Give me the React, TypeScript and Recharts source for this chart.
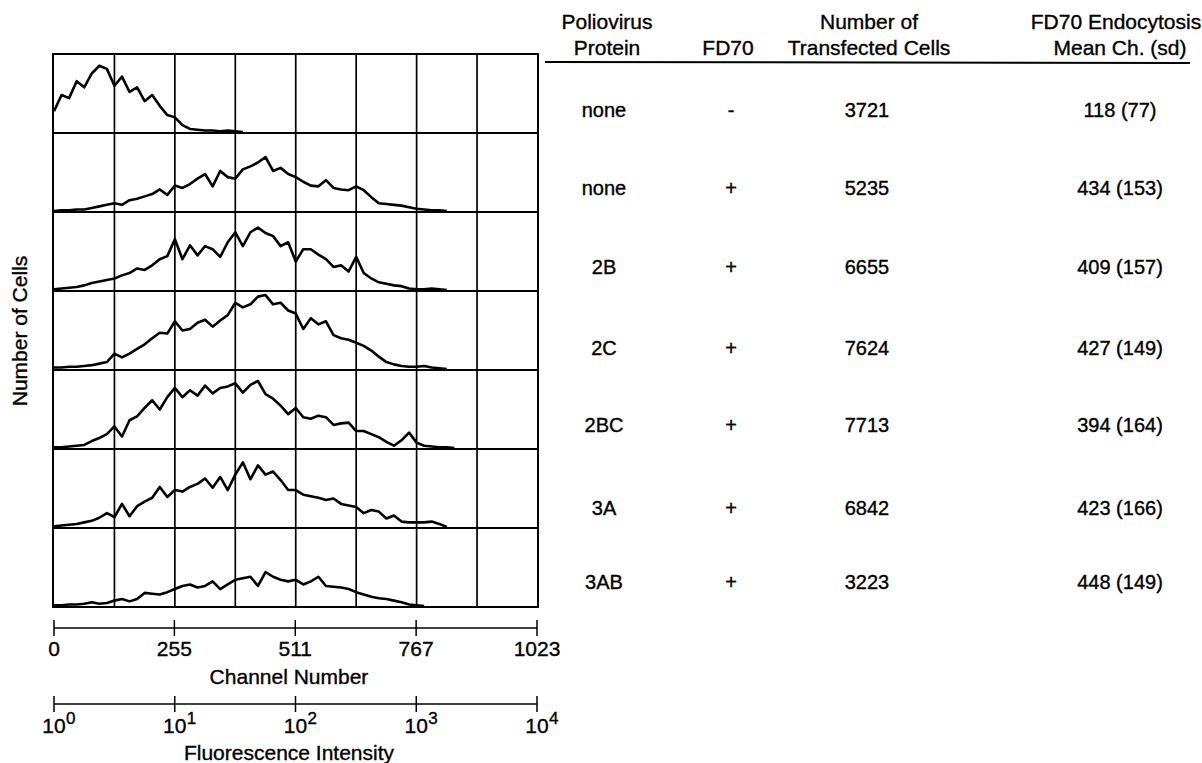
import { LineChart, Line, XAxis, YAxis, ReferenceLine } from 'recharts';

// histogram heights (% of panel height), one value every 16 channels starting at channel 0
const CHANNEL_STEP = 16;
const hist1 = [27, 48, 44, 66, 58, 76, 86, 82, 60, 72, 52, 58, 40, 48, 34, 22, 19, 9, 4, 3, 2, 2, 1, 2, 1, 0];
const hist2 = [0, 1, 1, 2, 2, 4, 6, 8, 10, 8, 14, 16, 19, 22, 28, 21, 33, 30, 35, 42, 48, 32, 52, 44, 42, 54, 58, 63, 70, 52, 56, 48, 44, 38, 33, 32, 40, 30, 28, 27, 32, 27, 18, 10, 9, 8, 7, 5, 3, 2, 1, 1, 0];
const hist3 = [1, 2, 3, 4, 6, 9, 11, 13, 15, 19, 22, 28, 26, 32, 40, 44, 66, 40, 58, 45, 57, 53, 43, 62, 75, 57, 75, 81, 74, 70, 57, 62, 37, 53, 53, 46, 40, 30, 32, 24, 43, 22, 15, 10, 8, 6, 5, 2, 1, 1, 2, 1, 0];
const hist4 = [2, 2, 3, 3, 4, 5, 7, 9, 20, 15, 20, 26, 32, 40, 47, 46, 62, 50, 52, 60, 64, 55, 63, 70, 86, 80, 84, 94, 96, 84, 86, 76, 72, 52, 66, 58, 62, 44, 40, 38, 34, 30, 24, 16, 9, 6, 4, 3, 3, 4, 2, 1, 0];
const hist5 = [1, 1, 2, 3, 4, 9, 13, 18, 28, 15, 36, 41, 52, 62, 50, 66, 78, 66, 75, 68, 81, 71, 78, 80, 84, 72, 82, 87, 70, 64, 55, 44, 52, 40, 38, 42, 40, 30, 32, 33, 22, 22, 18, 14, 8, 3, 10, 20, 7, 3, 2, 1, 1, 0];
const hist6 = [1, 2, 3, 4, 6, 8, 12, 18, 13, 30, 14, 27, 33, 38, 52, 39, 48, 46, 52, 56, 63, 51, 65, 48, 68, 84, 62, 80, 68, 72, 61, 48, 48, 42, 40, 38, 35, 37, 30, 28, 26, 18, 22, 20, 11, 15, 7, 6, 6, 6, 7, 4, 0];
const hist7 = [1, 1, 2, 2, 3, 5, 3, 4, 7, 9, 6, 9, 17, 16, 15, 18, 22, 26, 28, 24, 26, 32, 22, 28, 34, 36, 38, 26, 44, 38, 34, 32, 34, 28, 32, 38, 26, 25, 24, 22, 18, 15, 12, 10, 9, 7, 5, 2, 1, 0];
const histograms = [hist1, hist2, hist3, hist4, hist5, hist6, hist7];

const gridChannels = [128, 256, 384, 512, 640, 768, 896];
const channelTicks = [0, 255, 511, 767, 1023];
const intensityTicks = [1, 10, 100, 1000, 10000];

// table
const proteins = ['none', 'none', '2B', '2C', '2BC', '3A', '3AB'];
const fd70 = ['-', '+', '+', '+', '+', '+', '+'];
const cellCounts = [3721, 5235, 6655, 7624, 7713, 6842, 3223];
const means = [118, 434, 409, 427, 394, 423, 448];
const sds = [77, 153, 157, 149, 164, 166, 149];
const rowY = [110, 188, 267, 348, 425, 508, 582];

const FONT = '"Liberation Sans", Arial, Helvetica, sans-serif';
const PLOT_W = 483;
const PANEL_H = 77;
const INK = { stroke: '#000', strokeWidth: 0.35 };

function ChannelTick({ x, y, payload }: any) {
  return (
    <g>
      <line x1={x} x2={x} y1={y - 8} y2={y + 8} stroke="#000" strokeWidth={1.5} />
      <text x={x} y={y + 28} textAnchor="middle" fontSize={21} fontFamily={FONT} fill="#000" {...INK}>
        {payload.value}
      </text>
    </g>
  );
}

function IntensityTick({ x, y, payload }: any) {
  const exp = Math.round(Math.log10(payload.value));
  return (
    <g>
      <line x1={x} x2={x} y1={y - 8} y2={y + 8} stroke="#000" strokeWidth={1.5} />
      <text x={x} y={y + 29} textAnchor="middle" fontSize={21} fontFamily={FONT} fill="#000" {...INK}>10</text>
      <text x={x + 12} y={y + 20} textAnchor="start" fontSize={17} fontFamily={FONT} fill="#000" {...INK}>{exp}</text>
    </g>
  );
}

function Panel({ values }: { values: number[] }) {
  const data = values.map((v, i) => ({ ch: i * CHANNEL_STEP, v }));
  return (
    <LineChart width={PLOT_W} height={PANEL_H} data={data} margin={{ top: 0, right: 0, bottom: 0, left: 0 }}>
      <XAxis dataKey="ch" type="number" domain={[0, 1023]} hide />
      <YAxis type="number" domain={[0, 100]} hide />
      {gridChannels.map(c => (
        <ReferenceLine key={c} x={c} stroke="#000" strokeWidth={1.7} />
      ))}
      <Line
        type="linear"
        dataKey="v"
        stroke="#000"
        strokeWidth={2.6}
        strokeLinejoin="round"
        dot={false}
        isAnimationActive={false}
      />
    </LineChart>
  );
}

function AxisChart({ log }: { log?: boolean }) {
  const data = log ? [{ x: 1, y: 0 }, { x: 10000, y: 0 }] : [{ x: 0, y: 0 }, { x: 1023, y: 0 }];
  return (
    <LineChart width={PLOT_W + 80} height={50} data={data} margin={{ top: 0, right: 40, bottom: 0, left: 40 }}>
      <XAxis
        dataKey="x"
        type="number"
        scale={log ? 'log' : 'linear'}
        domain={log ? [1, 10000] : [0, 1023]}
        ticks={log ? intensityTicks : channelTicks}
        tick={log ? <IntensityTick /> : <ChannelTick />}
        tickLine={false}
        tickSize={0}
        tickMargin={0}
        axisLine={{ stroke: '#000', strokeWidth: 1.5 }}
        height={40}
        interval={0}
      />
      <YAxis hide domain={[-1, 1]} />
      <Line dataKey="y" stroke="none" dot={false} isAnimationActive={false} />
    </LineChart>
  );
}

export default function App() {
  return (
    <div style={{ position: 'absolute', left: 0, top: 0, width: 1202, height: 763, background: '#fff', overflow: 'hidden', fontFamily: FONT }}>
      <svg width={1202} height={763} style={{ position: 'absolute', left: 0, top: 0 }}>
        <g fontFamily={FONT} fill="#000" textAnchor="middle" {...INK}>
          <text x={0} y={0} transform="translate(19,331) rotate(-90)" fontSize={21} dominantBaseline="central">Number of Cells</text>
          <text x={289} y={676} fontSize={21} dominantBaseline="central">Channel Number</text>
          <text x={289} y={752} fontSize={21} dominantBaseline="central">Fluorescence Intensity</text>

          <text x={607} y={21} fontSize={21} dominantBaseline="central">Poliovirus</text>
          <text x={607} y={47} fontSize={21} dominantBaseline="central">Protein</text>
          <text x={728} y={47} fontSize={21} dominantBaseline="central">FD70</text>
          <text x={869} y={21} fontSize={21} dominantBaseline="central">Number of</text>
          <text x={869} y={47} fontSize={21} dominantBaseline="central">Transfected Cells</text>
          <text x={1116} y={21} fontSize={21} dominantBaseline="central">FD70 Endocytosis</text>
          <text x={1120} y={47} fontSize={21} dominantBaseline="central">Mean Ch. (sd)</text>

          {proteins.map((p, i) => (
            <g key={i} fontSize={20}>
              <text x={604} y={rowY[i]} dominantBaseline="central">{p}</text>
              <text x={731} y={rowY[i]} dominantBaseline="central">{fd70[i]}</text>
              <text x={867} y={rowY[i]} dominantBaseline="central">{cellCounts[i]}</text>
              <text x={1120} y={rowY[i]} dominantBaseline="central">{`${means[i]} (${sds[i]})`}</text>
            </g>
          ))}
        </g>
        <line x1={545} x2={1190} y1={62} y2={63} stroke="#000" strokeWidth={2} />
      </svg>

      <div style={{ position: 'absolute', left: 52, top: 53, width: PLOT_W + 4, boxSizing: 'border-box', border: '2px solid #000', background: '#fff' }}>
        {histograms.map((h, i) => (
          <div key={i} style={{ height: PANEL_H, borderTop: i > 0 ? '2px solid #000' : 'none' }}>
            <Panel values={h} />
          </div>
        ))}
      </div>

      <div style={{ position: 'absolute', left: 14, top: 618 }}>
        <AxisChart />
      </div>
      <div style={{ position: 'absolute', left: 14, top: 694 }}>
        <AxisChart log />
      </div>
    </div>
  );
}
